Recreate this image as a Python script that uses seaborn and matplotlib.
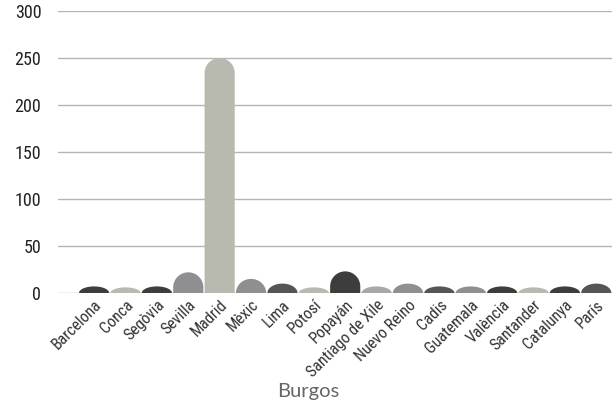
import numpy as np
import pandas as pd
import seaborn as sns
import matplotlib
matplotlib.use("Agg")
import matplotlib.pyplot as plt
from matplotlib import font_manager as fm
from matplotlib.path import Path
from matplotlib.patches import PathPatch

cities = ["Barcelona", "Conca", "Segòvia", "Sevilla", "Madrid", "Mèxic", "Lima",
          "Potosí", "Popayán", "Santiago de Xile", "Nuevo Reino", "Cadis",
          "Guatemala", "València", "Santander", "Catalunya", "París"]
values = [7, 6, 7, 22, 250, 15, 10, 6, 23, 7, 10, 7, 7, 7, 6, 7, 10]
colors = ["#3d3d3d", "#bbbcad", "#3d3d3d", "#8e8f93", "#bbbcad", "#8e8f93", "#555555",
          "#bbbcad", "#3d3d3d", "#a7a8ac", "#8e8f93", "#555555", "#8e8f93", "#3d3d3d",
          "#bbbcad", "#3d3d3d", "#555555"]
y_ticks = [0, 50, 100, 150, 200, 250, 300]

df = pd.DataFrame({"city": cities, "value": values})

sns.set_theme(style="white")

# pick a condensed face if one is installed
names = {f.name for f in fm.fontManager.ttflist}
condensed = [f for f in fm.fontManager.ttflist
             if f.stretch in ("condensed", "semi-condensed", "extra-condensed")
             or "Narrow" in f.name or "Condensed" in f.name]
narrow_family = None
for cand in ["Liberation Sans Narrow", "Roboto Condensed", "Open Sans Condensed",
             "DejaVu Sans Condensed"]:
    if cand in names:
        narrow_family = cand
        break
if narrow_family is None and condensed:
    narrow_family = condensed[0].name
if narrow_family is None:
    narrow_family = "Liberation Sans"
    ysize, xsize = 12, 10
else:
    ysize, xsize = 13, 11.5
plt.rcParams["font.family"] = [narrow_family, "DejaVu Sans"]

fig = plt.figure(figsize=(6.12, 4.08), dpi=100)
ax = fig.add_axes([58 / 612, 115 / 408, 554 / 612, (408 - 115 - 11) / 408])

sns.barplot(data=df, x="city", y="value", hue="city", palette=colors,
            legend=False, width=1.0, ax=ax, zorder=3)

ax.set_ylim(0, 300)
ax.set_xlim(-1.15, len(cities) - 0.5)
ax.set_yticks(y_ticks)
ax.grid(axis="y", color="#b5b5b5", linewidth=1.0, zorder=0)
ax.set_axisbelow(True)
for s in ax.spines.values():
    s.set_visible(False)

fig.canvas.draw()
bbox = ax.get_window_extent()
px_per_y = bbox.height / 300.0
px_per_x = bbox.width / (ax.get_xlim()[1] - ax.get_xlim()[0])

for p in list(ax.patches):
    x0, w, h = p.get_x(), p.get_width(), p.get_height()
    fc = p.get_facecolor()
    p.set_visible(False)
    rx = w / 2 * 0.96
    ry = min(h, rx * px_per_x / px_per_y)
    xc = x0 + w / 2
    t = np.linspace(np.pi, 0, 60)
    arc_x = xc + rx * np.cos(t)
    arc_y = (h - ry) + ry * np.sin(t)
    xs = np.concatenate([[xc - rx], arc_x, [xc + rx, xc - rx]])
    ys = np.concatenate([[0], arc_y, [0, 0]])
    verts = np.column_stack([xs, ys])
    codes = [Path.MOVETO] + [Path.LINETO] * (len(verts) - 2) + [Path.CLOSEPOLY]
    ax.add_patch(PathPatch(Path(verts, codes), facecolor=fc, edgecolor="none", zorder=3))

ax.tick_params(axis="y", labelsize=ysize, pad=12, length=0, labelcolor="#222222")
ax.tick_params(axis="x", labelsize=xsize, pad=3, length=0, labelcolor="#333333")
for lab in ax.get_xticklabels():
    lab.set_rotation(45)
    lab.set_ha("right")
    lab.set_rotation_mode("anchor")

ax.set_ylabel("")
ax.set_xlabel("Burgos", fontsize=14.5, color="#666666",
              family=["Lato", "DejaVu Sans"])
ax.xaxis.set_label_coords((308 - 58) / 554, (293 - 397) / 282)
ax.xaxis.label.set_va("baseline")

fig.savefig("out.png", dpi=100)
